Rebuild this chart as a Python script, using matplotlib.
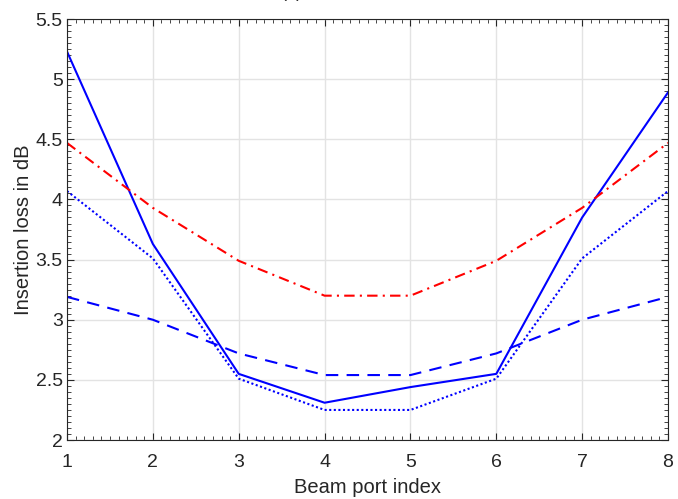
import numpy as np
import matplotlib.pyplot as plt
from matplotlib.ticker import MultipleLocator

# data
ports = [1, 2, 3, 4, 5, 6, 7, 8]
loss_solid = [5.23, 3.63, 2.55, 2.31, 2.44, 2.55, 3.85, 4.89]
loss_dashdot = [4.47, 3.93, 3.49, 3.20, 3.20, 3.49, 3.93, 4.47]
loss_dashed = [3.19, 3.00, 2.72, 2.54, 2.54, 2.72, 3.00, 3.19]
loss_dotted = [4.07, 3.51, 2.51, 2.25, 2.25, 2.51, 3.51, 4.07]
ytick_vals = [2, 2.5, 3, 3.5, 4, 4.5, 5, 5.5]
ytick_text = ['2', '2.5', '3', '3.5', '4', '4.5', '5', '5.5']

plt.rcParams['font.family'] = ['Liberation Sans', 'DejaVu Sans']

fig = plt.figure(figsize=(6.78, 4.99), dpi=100)
ax = fig.add_axes([0.0988, 0.1182, 0.8865, 0.8437])

lw = 1.5
ax.plot(ports, loss_solid, color='#0000ff', linestyle='-', linewidth=lw)
ax.plot(ports, loss_dashdot, color='#ff0000', linestyle=(0, (5, 2.5, 1, 2.5)), linewidth=lw)
ax.plot(ports, loss_dashed, color='#0000ff', linestyle=(0, (6, 4)), linewidth=lw)
ax.plot(ports, loss_dotted, color='#0000ff', linestyle=(0, (1, 1.2)), linewidth=lw)

ax.set_xlim(1, 8)
ax.set_ylim(2, 5.5)
ax.xaxis.set_major_locator(MultipleLocator(1))
ax.xaxis.set_minor_locator(MultipleLocator(0.1))
ax.set_yticks(ytick_vals)
ax.set_yticklabels(ytick_text)
ax.yaxis.set_minor_locator(MultipleLocator(0.05))

ax.grid(True, which='major', color='#e3e3e3', linewidth=1)
ax.set_axisbelow(True)
ax.tick_params(which='both', direction='in', top=True, right=True, labelsize=14,
               color='#262626', labelcolor='#262626')
ax.tick_params(which='major', length=5, width=0.8)
ax.tick_params(axis='x', which='major', pad=10)
ax.tick_params(axis='y', which='major', pad=3)
ax.tick_params(which='minor', length=3, width=0.6)
for s in ax.spines.values():
    s.set_color('#262626')
    s.set_linewidth(0.8)

ax.set_xlabel('Beam port index', fontsize=14.5, color='#262626', labelpad=5)
ax.set_ylabel('Insertion loss in dB', fontsize=14.5, color='#262626', labelpad=2)

# title clipped at the top edge as in the reference
fig.text(0.43, 1.006, '(a)', fontsize=13, ha='center', va='baseline', color='#262626')

fig.savefig('out.png', dpi=100)
